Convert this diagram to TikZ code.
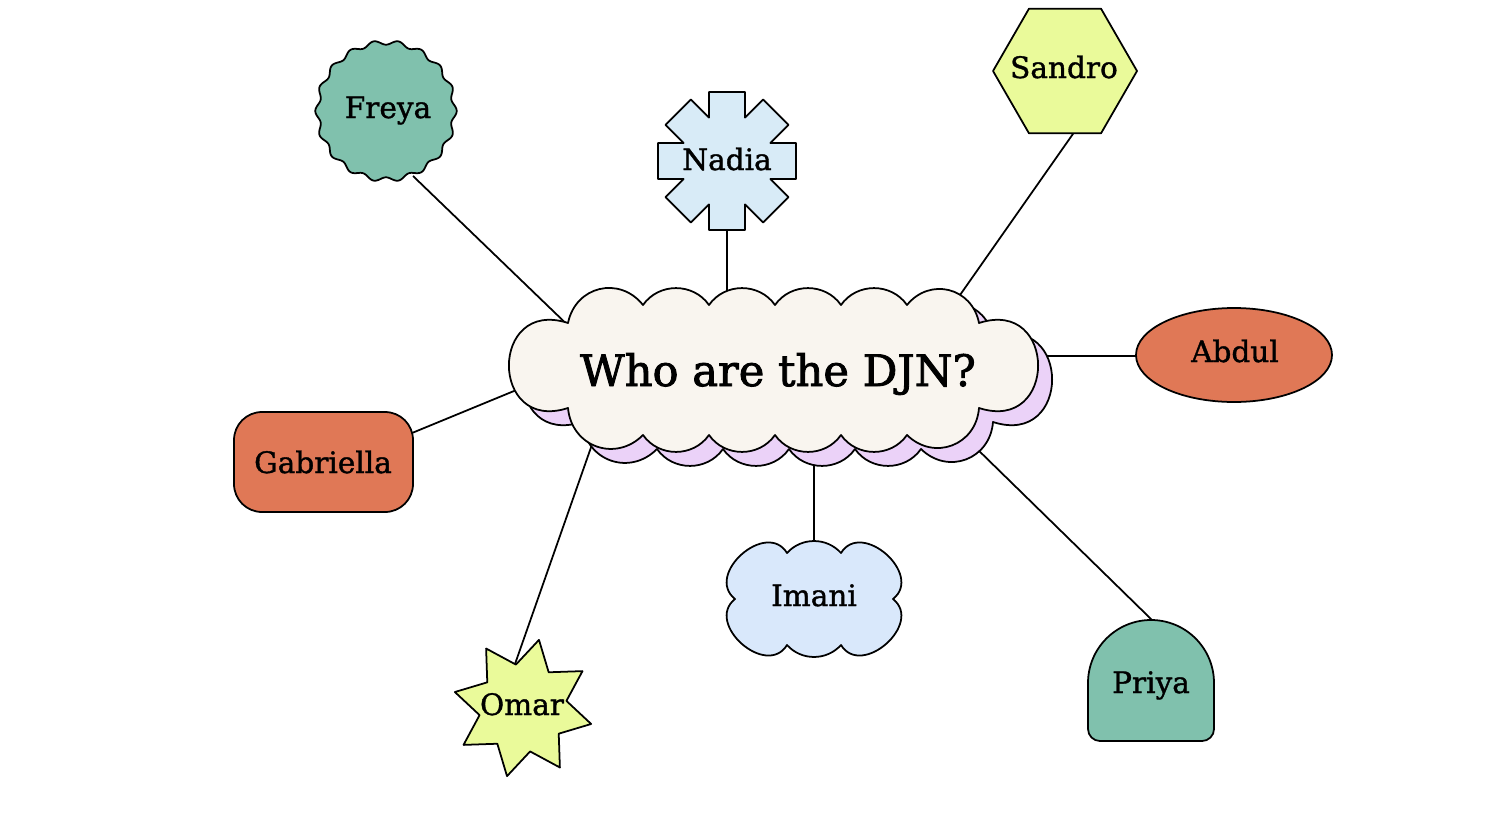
\documentclass[tikz,border=0pt]{standalone}
\usepackage{fontspec}
\setmainfont{DejaVu Serif}
\newfontfamily\djnfont{DejaVu Serif}[FakeBold=1.2]
\newfontfamily\djntitlefont{DejaVu Serif}[FakeBold=2]
\usetikzlibrary{calc}
\definecolor{tealf}{HTML}{80C1AD}
\definecolor{coralf}{HTML}{E07856}
\definecolor{yelf}{HTML}{EAFA9A}
\definecolor{nadiaf}{HTML}{D8EBF7}
\definecolor{imanif}{HTML}{D9E8FB}
\definecolor{lilacf}{HTML}{EBD2F8}
\definecolor{creamf}{HTML}{F9F5EF}
\begin{document}
\begin{tikzpicture}[x=0.01cm,y=0.01cm,
  shp/.style={draw=black, line width=0.5pt, line join=round},
  link/.style={draw=black, line width=0.5pt},
  lbl/.style={font=\djnfont\fontsize{8.4}{10}\selectfont, anchor=base, inner sep=0pt},
  ttl/.style={font=\djntitlefont\fontsize{12.3}{15}\selectfont, anchor=base, inner sep=0pt}]
\useasboundingbox (0,0) rectangle (1500,-815);
\fill[white] (0,0) rectangle (1500,-815);

% attachment coordinates
\coordinate (freya-a) at (413,-176);
\coordinate (djn-freya) at (578,-335);
\coordinate (nadia-a) at (727,-228);
\coordinate (djn-nadia) at (727,-310);
\coordinate (sandro-a) at (1075,-131);
\coordinate (djn-sandro) at (953,-305);
\coordinate (abdul-a) at (1137,-356);
\coordinate (djn-abdul) at (1025,-356);
\coordinate (gab-a) at (412,-433);
\coordinate (djn-gab) at (531,-384);
\coordinate (omar-a) at (515,-664);
\coordinate (djn-omar) at (595,-436);
\coordinate (imani-a) at (814,-543);
\coordinate (djn-imani) at (814,-450);
\coordinate (priya-a) at (1152,-620);
\coordinate (djn-priya) at (972,-444);

\draw[link] (freya-a) -- (djn-freya);
\draw[link] (nadia-a) -- (djn-nadia);
\draw[link] (sandro-a) -- (djn-sandro);
\draw[link] (abdul-a) -- (djn-abdul);
\draw[link] (gab-a) -- (djn-gab);
\draw[link] (omar-a) -- (djn-omar);
\draw[link] (imani-a) -- (djn-imani);
\draw[link] (priya-a) -- (djn-priya);

% main cloud with shadow
\foreach \dx/\dy/\col in {14/-14/lilacf, 0/0/creamf}{
\begin{scope}[shift={(\dx,\dy)}]
\draw[shp, fill=\col] (568,-323)
  to[bend left=65, looseness=1.25] (643,-305)
  to[bend left=55, looseness=1.07] (709,-305)
  to[bend left=55, looseness=1.07] (775,-305)
  to[bend left=55, looseness=1.07] (841,-305)
  to[bend left=55, looseness=1.07] (907,-305)
  to[bend left=65, looseness=1.25] (979,-323)
  to[bend left=108, looseness=2.5] (979,-408)
  to[bend left=65, looseness=1.25] (907,-435)
  to[bend left=55, looseness=1.07] (841,-435)
  to[bend left=55, looseness=1.07] (775,-435)
  to[bend left=55, looseness=1.07] (709,-435)
  to[bend left=55, looseness=1.07] (643,-435)
  to[bend left=65, looseness=1.25] (568,-408)
  to[bend left=108, looseness=2.5] (568,-323) -- cycle;
\end{scope}}

% Freya: wavy circle
\draw[shp, fill=tealf, shift={(386,-111)}] plot[domain=0:360, samples=361, variable=\t] (\t:{68.5+2.2*cos(18*\t)}) -- cycle;

% Nadia: eight-armed cross
\draw[shp, fill=nadiaf] ($(727,-161)+(-22.5:47)$)
  \foreach \a in {0,45,...,315}{ -- ($(727,-161)+(\a:69)+({\a-90}:18)$) -- ($(727,-161)+(\a:69)+({\a+90}:18)$) -- ($(727,-161)+({\a+22.5}:47)$) } -- cycle;

% Sandro: hexagon
\draw[shp, fill=yelf] (1065,-71) +(0:72) -- +(60:72) -- +(120:72) -- +(180:72) -- +(240:72) -- +(300:72) -- cycle;

% Abdul: ellipse
\draw[shp, fill=coralf] (1234,-355) ellipse[x radius=98, y radius=47];

% Gabriella: rounded rectangle
\draw[shp, fill=coralf, rounded corners=0.28cm] (234,-412) rectangle (413,-512);

% Omar: eight-point star
\draw[shp, fill=yelf] ($(523,-708)+(31.8:70)$)
  \foreach \k in {1,...,8}{ -- ($(523,-708)+({31.8+45*\k-22.5}:44)$) -- ($(523,-708)+({31.8+45*\k}:70)$) } -- cycle;

% Imani: small cloud
\draw[shp, fill=imanif] (735,-599)
  to[bend left=100, looseness=1.45] (787,-553)
  to[bend left=48, looseness=1.02] (841,-553)
  to[bend left=100, looseness=1.45] (893,-599)
  to[bend left=100, looseness=1.45] (841,-645)
  to[bend left=48, looseness=1.02] (787,-645)
  to[bend left=100, looseness=1.45] (735,-599) -- cycle;

% Priya: arch
\draw[shp, fill=tealf] (1088,-683) arc[start angle=180, end angle=0, radius=63]
  -- (1214,-729) arc[start angle=0, end angle=-90, radius=12]
  -- (1100,-741) arc[start angle=270, end angle=180, radius=12] -- cycle;

% labels
\node[ttl] (djn) at (778,-386) {Who are the DJN?};
\node[lbl] (freya) at (388,-118) {Freya};
\node[lbl] (nadia) at (727,-170) {Nadia};
\node[lbl] (sandro) at (1064,-78) {Sandro};
\node[lbl] (abdul) at (1235,-362) {Abdul};
\node[lbl] (gabriella) at (323,-473) {Gabriella};
\node[lbl] (imani) at (814,-606) {Imani};
\node[lbl] (omar) at (522,-715) {Omar};
\node[lbl] (priya) at (1151,-693) {Priya};
\end{tikzpicture}
\end{document}
